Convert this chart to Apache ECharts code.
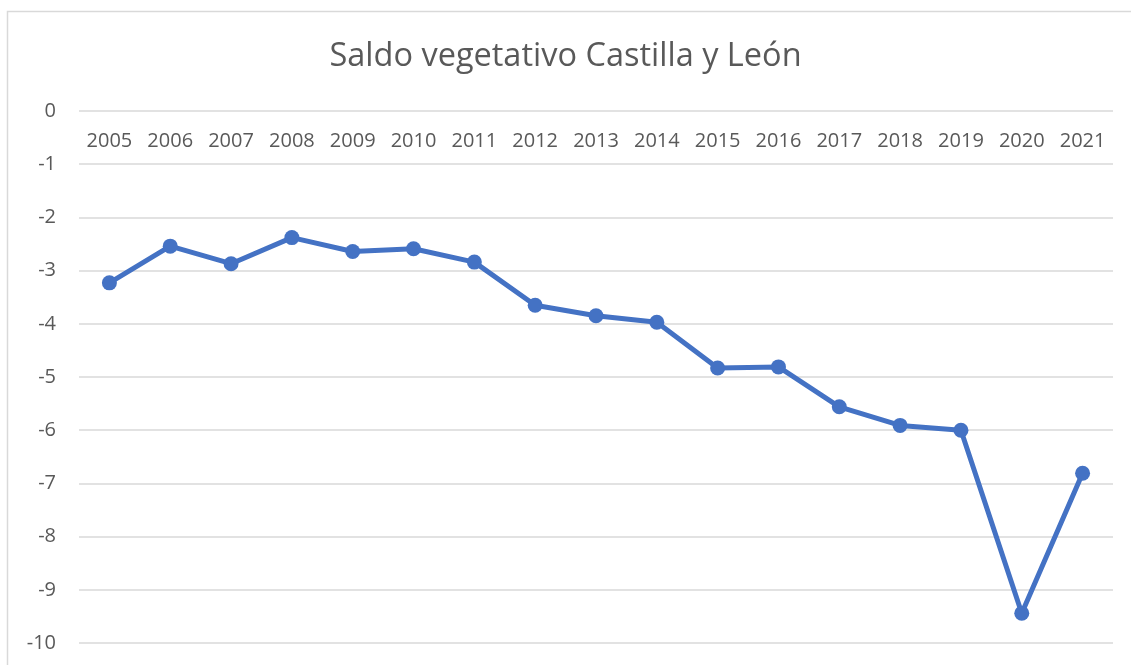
<!DOCTYPE html>
<html>
<head>
<meta charset="utf-8">
<script src="https://cdn.jsdelivr.net/npm/echarts@6/dist/echarts.min.js"></script>
<style>
  html, body { margin: 0; padding: 0; background: #fff; }
  #chart { width: 1131px; height: 665px; }
</style>
</head>
<body>
<div id="chart"></div>
<script>
// 年份
const years = ['2005', '2006', '2007', '2008', '2009', '2010', '2011', '2012', '2013',
  '2014', '2015', '2016', '2017', '2018', '2019', '2020', '2021']
// saldo vegetativo (por mil)
const saldo = [-3.23, -2.54, -2.87, -2.38, -2.64, -2.59, -2.84, -3.65, -3.85,
  -3.97, -4.83, -4.81, -5.56, -5.91, -6.0, -9.44, -6.81]

const chart = echarts.init(document.getElementById('chart'))
const textColor = '#595959'
const font = 'Open Sans'

chart.setOption({
  animation: false,
  color: ['#4472C4'],
  title: {
    text: 'Saldo vegetativo Castilla y León',
    left: 'center',
    top: 35,
    textStyle: {
      color: textColor,
      fontFamily: font,
      fontSize: 32.5,
      fontWeight: 'normal'
    }
  },
  // 外框
  graphic: [{
    type: 'rect',
    shape: { x: 7.5, y: 11.5, width: 1300, height: 800 },
    style: { fill: 'none', stroke: '#d9d9d9', lineWidth: 1.5 },
    silent: true
  }],
  grid: {
    left: 79,
    right: 18,
    top: 111,
    bottom: 22
  },
  xAxis: {
    type: 'category',
    position: 'top',
    data: years,
    axisLine: { show: false },
    axisTick: { show: false },
    axisLabel: {
      inside: true,
      margin: 20,
      color: textColor,
      fontFamily: font,
      fontSize: 20
    }
  },
  yAxis: {
    type: 'value',
    min: -10,
    max: 0,
    interval: 1,
    axisLine: { show: false },
    axisTick: { show: false },
    axisLabel: {
      margin: 23,
      color: textColor,
      fontFamily: font,
      fontSize: 20
    },
    splitLine: {
      show: true,
      lineStyle: { color: '#d9d9d9', width: 1.5 }
    }
  },
  series: [{
    name: 'Saldo vegetativo',
    type: 'line',
    data: saldo,
    symbol: 'circle',
    symbolSize: 15,
    lineStyle: { width: 5 },
    itemStyle: { color: '#4472C4' }
  }]
})
</script>
</body>
</html>
